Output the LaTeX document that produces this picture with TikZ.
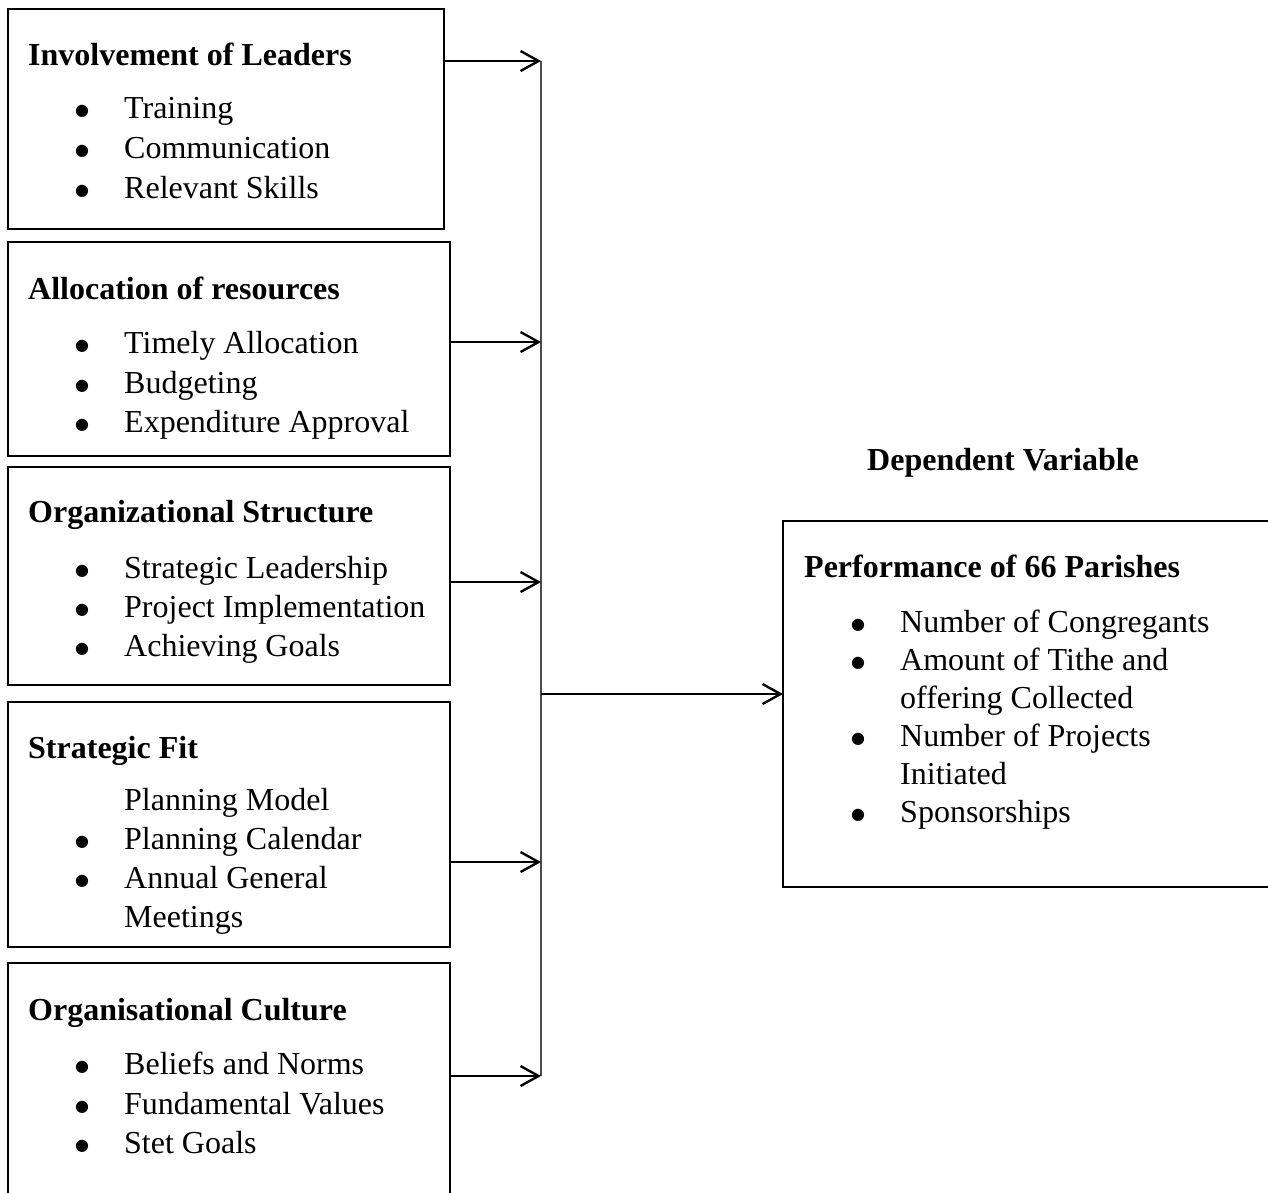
\documentclass[tikz,border=0pt]{standalone}
\usepackage{fontspec}
\setmainfont{Liberation Serif}
\newfontfamily\bulfont{DejaVu Sans}
\usetikzlibrary{arrows.meta}
\tikzset{
  boxframe/.style={draw=black, line width=2pt},
  ttl/.style={anchor=base west, inner sep=0pt, font=\fontsize{32}{40}\selectfont\bfseries},
  itm/.style={anchor=base west, inner sep=0pt, font=\fontsize{32}{40}\selectfont},
  conn/.style={line width=2.4pt, -{Straight Barb[length=18pt,width=20pt,line width=2.4pt]}},
  spine/.style={line width=1.6pt, draw=black!70},
}
\newcommand{\bul}{\llap{\makebox[84pt][c]{\raisebox{3pt}{\bulfont\fontsize{16}{16}\selectfont ●}}}}
\begin{document}
\begin{tikzpicture}[x=1pt,y=-1pt]
\useasboundingbox (0,0) rectangle (1268,1192);
\clip (0,0) rectangle (1268,1192);
% boxes
\draw[boxframe] (8,9) rectangle (444,229);
\draw[boxframe] (8,242) rectangle (450,456);
\draw[boxframe] (8,467) rectangle (450,685);
\draw[boxframe] (8,702) rectangle (450,947);
\draw[boxframe] (8,963) rectangle (450,1210);
\draw[boxframe] (783,521) rectangle (1280,887);
% box 1
\node[ttl] (t1) at (28,65) {Involvement of Leaders};
\node[itm] (i11) at (124,118) {\bul Training};
\node[itm] (i12) at (124,158) {\bul Communication};
\node[itm] (i13) at (124,198) {\bul Relevant Skills};
% box 2
\node[ttl] (t2) at (28,299) {Allocation of resources};
\node[itm] (i21) at (124,353) {\bul Timely Allocation};
\node[itm] (i22) at (124,393) {\bul Budgeting};
\node[itm] (i23) at (124,432) {\bul Expenditure Approval};
% box 3
\node[ttl] (t3) at (28,522) {Organizational Structure};
\node[itm] (i31) at (124,578) {\bul Strategic Leadership};
\node[itm] (i32) at (124,617) {\bul Project Implementation};
\node[itm] (i33) at (124,656) {\bul Achieving Goals};
% box 4
\node[ttl] (t4) at (28,758) {Strategic Fit};
\node[itm] (i41) at (124,810) {Planning Model};
\node[itm] (i42) at (124,849) {\bul Planning Calendar};
\node[itm] (i43) at (124,888) {\bul Annual General};
\node[itm] (i44) at (124,927) {Meetings};
% box 5
\node[ttl] (t5) at (28,1020) {Organisational Culture};
\node[itm] (i51) at (124,1074) {\bul Beliefs and Norms};
\node[itm] (i52) at (124,1114) {\bul Fundamental Values};
\node[itm] (i53) at (124,1153) {\bul Stet Goals};
% right box
\node[ttl] (dv) at (867,470) {Dependent Variable};
\node[ttl] (t6) at (804,577) {Performance of 66 Parishes};
\node[itm] (i61) at (900,632) {\bul Number of Congregants};
\node[itm] (i62) at (900,670) {\bul Amount of Tithe and};
\node[itm] (i63) at (900,708) {offering Collected};
\node[itm] (i64) at (900,746) {\bul Number of Projects};
\node[itm] (i65) at (900,784) {Initiated};
\node[itm] (i66) at (900,822) {\bul Sponsorships};
% connector coordinates
\coordinate (s1) at (444,61);   \coordinate (j1) at (541,61);
\coordinate (s2) at (450,342);  \coordinate (j2) at (541,342);
\coordinate (s3) at (450,582);  \coordinate (j3) at (541,582);
\coordinate (s4) at (450,862);  \coordinate (j4) at (541,862);
\coordinate (s5) at (450,1076); \coordinate (j5) at (541,1076);
\coordinate (jm) at (541,694);  \coordinate (pr) at (783,694);
\draw[spine] (j1) -- (j5);
\draw[conn] (s1) -- (j1);
\draw[conn] (s2) -- (j2);
\draw[conn] (s3) -- (j3);
\draw[conn] (s4) -- (j4);
\draw[conn] (s5) -- (j5);
\draw[conn] (jm) -- (pr);
\end{tikzpicture}
\end{document}
